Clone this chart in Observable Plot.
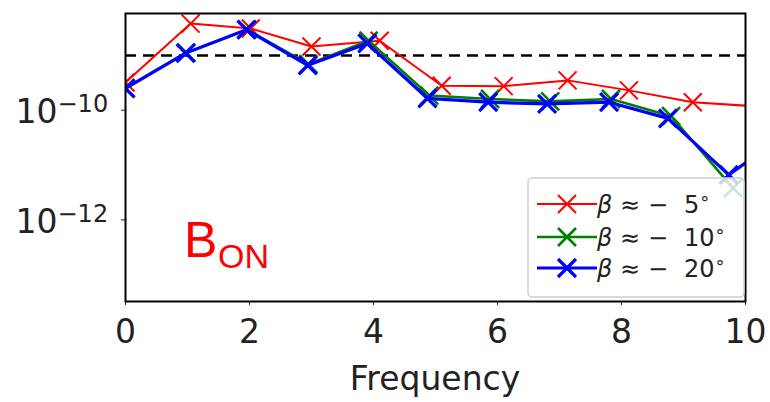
<!DOCTYPE html>
<html><head><meta charset="utf-8">
<script src="https://cdn.jsdelivr.net/npm/d3@7"></script>
<script src="https://cdn.jsdelivr.net/npm/@observablehq/plot@0.6"></script>
<style>body{margin:0;background:#fff} svg{display:block}</style>
</head><body><div id="chart"></div>
<script>
// ---- data ----
const seriesNames = ["β ≈ − 5°", "β ≈ − 10°", "β ≈ − 20°"];
const seriesColors = ["#ff0000", "#008000", "#0000ff"];
const seriesWidths = [2, 2.6, 3.2];

const freqRed   = [0, 1.05, 2.02, 3.0, 4.1, 5.1, 6.1, 7.13, 8.12, 9.15, 10.2];
const valueRed  = [3.2e-10, 3.8e-9, 3.1e-9, 1.45e-9, 1.85e-9, 2.8e-10, 2.75e-10, 3.5e-10, 2.3e-10, 1.4e-10, 1.17e-10];

const freqGreen  = [0, 0.98, 1.96, 2.95, 3.92, 4.9, 5.88, 6.85, 7.83, 8.8, 9.8];
const valueGreen = [2.5e-10, 1.12e-9, 2.95e-9, 6.9e-10, 1.85e-9, 1.85e-10, 1.6e-10, 1.45e-10, 1.6e-10, 7.8e-11, 3.8e-12];

const freqBlue  = [0, 0.97, 1.95, 2.94, 3.9, 4.87, 5.85, 6.8, 7.8, 8.75, 9.73, 10.72];
const valueBlue = [2.5e-10, 1.1e-9, 2.95e-9, 6.6e-10, 1.65e-9, 1.65e-10, 1.4e-10, 1.3e-10, 1.4e-10, 7.1e-11, 6.6e-12, 4.2e-11];

const xTicks = [0, 2, 4, 6, 8, 10];
const yTicks = [1e-10, 1e-12];
const yTickExponents = ["−10", "−12"];
const thresholdValue = 1e-9;
const xLabel = "Frequency";
const panelLabel = ["B", "ON"];

// ---- build rows ----
const allFreq = [freqRed, freqGreen, freqBlue];
const allVal = [valueRed, valueGreen, valueBlue];
const rows = seriesNames.map((name, i) =>
  allFreq[i].map((f, j) => ({series: name, f, v: allVal[i][j]})));

const crossSymbol = {
  draw(context, size) {
    const r = Math.sqrt(size / Math.PI);
    context.moveTo(-r, -r); context.lineTo(r, r);
    context.moveTo(-r, r); context.lineTo(r, -r);
  }
};

const font = "DejaVu Sans, sans-serif";
const marks = [
  Plot.ruleY([thresholdValue], {stroke: "black", strokeWidth: 2.5, strokeDasharray: "11,7", clip: true})
];
rows.forEach((data, i) => {
  marks.push(Plot.line(data, {x: "f", y: "v", stroke: seriesColors[i], strokeWidth: seriesWidths[i], clip: true}));
  marks.push(Plot.dot(data, {x: "f", y: "v", symbol: crossSymbol, r: 9, fill: "none", stroke: seriesColors[i], strokeWidth: seriesWidths[i], clip: true}));
});
marks.push(
  Plot.frame({stroke: "black", strokeWidth: 2}),
  Plot.axisX({ticks: xTicks, tickSize: 4, tickPadding: 14, fontSize: 33, label: null, tickFormat: d => String(d)}),
  Plot.axisY({ticks: yTicks, tickSize: 4, tickFormat: () => "", label: null}),
  Plot.text(yTicks, {y: d => d, frameAnchor: "left", text: () => "10", textAnchor: "end", dx: -68, dy: 2.5, fontSize: 33, fill: "#222"}),
  Plot.text(yTicks, {y: d => d, frameAnchor: "left", text: (d, i) => yTickExponents[i], textAnchor: "start", dx: -68, dy: -6, fontSize: 24, fill: "#222"})
);

const chart = Plot.plot({
  width: 770, height: 402,
  marginLeft: 125, marginRight: 25, marginTop: 13, marginBottom: 101,
  style: {fontFamily: font, background: "white", color: "#222"},
  x: {domain: [0, 10]},
  y: {type: "log", domain: [3.24e-14, 5.81e-9]},
  marks
});
document.getElementById("chart").append(chart);

// ---- annotations: axis title, panel label, legend ----
const svg = d3.select(chart);
svg.append("text").attr("x", 435).attr("y", 390).attr("text-anchor", "middle")
  .attr("font-family", font).attr("font-size", 33).attr("fill", "#222").text(xLabel);

const pl = svg.append("text").attr("text-anchor", "start").attr("font-family", "Liberation Sans, Arial, sans-serif").attr("fill", "#ff0000");
pl.append("tspan").attr("x", 184).attr("y", 257).attr("font-size", 50).text(panelLabel[0]);
pl.append("tspan").attr("x", 218).attr("y", 268).attr("font-size", 34).text(panelLabel[1]);

const lg = svg.append("g");
lg.append("rect").attr("x", 528).attr("y", 178).attr("width", 216).attr("height", 119).attr("rx", 4)
  .attr("fill", "white").attr("fill-opacity", 0.8).attr("stroke", "#d0d0d0").attr("stroke-width", 1.5);
const rowY = [204, 237, 268];
seriesNames.forEach((name, i) => {
  const y = rowY[i];
  lg.append("line").attr("x1", 537).attr("x2", 597).attr("y1", y).attr("y2", y)
    .attr("stroke", seriesColors[i]).attr("stroke-width", seriesWidths[i]);
  lg.append("path").attr("d", `M${567-9},${y-9}L${567+9},${y+9}M${567-9},${y+9}L${567+9},${y-9}`)
    .attr("stroke", seriesColors[i]).attr("stroke-width", seriesWidths[i]).attr("fill", "none");
  const num = name.replace(/[^0-9]/g, "");
  const t = lg.append("text").attr("text-anchor", "start").attr("font-family", font).attr("font-size", 24).attr("fill", "#222").attr("y", y + 8.5);
  t.append("tspan").attr("x", 597).attr("font-style", "italic").text("β");
  t.append("tspan").attr("x", 620).text("≈");
  t.append("tspan").attr("x", 648).text("−");
  t.append("tspan").attr("x", 684).text(num);
  t.append("tspan").attr("dx", 1).attr("dy", -4).attr("font-size", 18).text("°");
});
</script></body></html>
